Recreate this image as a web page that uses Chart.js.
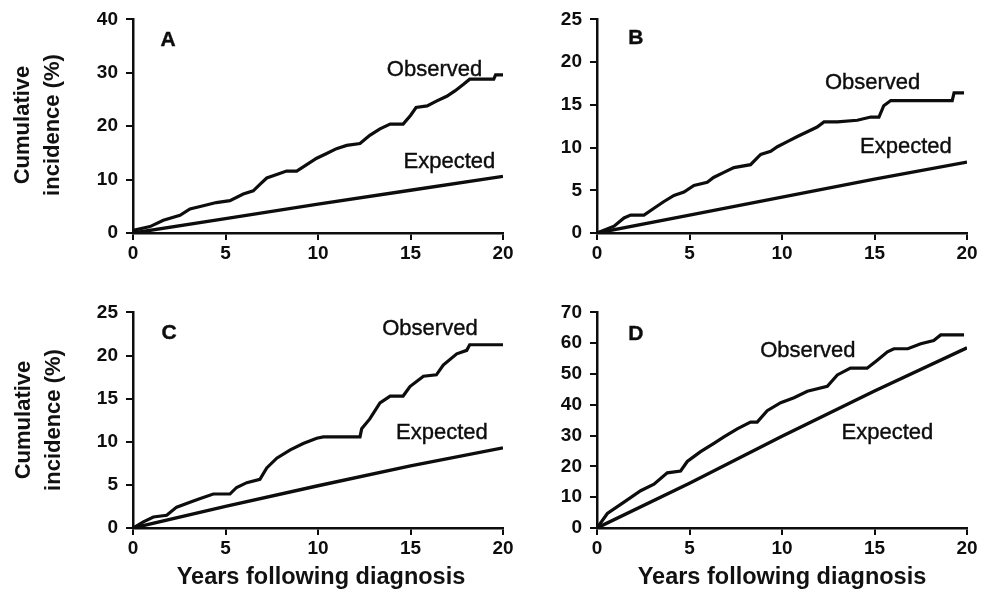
<!DOCTYPE html>
<html>
<head>
<meta charset="utf-8">
<script src="https://cdn.jsdelivr.net/npm/chart.js@4.4.1/dist/chart.umd.min.js"></script>
<style>
  html, body { margin: 0; padding: 0; background: #fff; }
  body { width: 981px; height: 591px; position: relative; overflow: hidden;
         font-family: "Liberation Sans", Arial, sans-serif; color: #111; }
  .panel { position: absolute; }
  .ytitle { position: absolute; width: 200px; height: 60px; margin-left: -100px; margin-top: -30px;
            line-height: 30px; text-align: center; font-weight: bold; font-size: 22px;
            transform: rotate(-90deg); }
  .xtitle { position: absolute; width: 340px; margin-left: -170px; text-align: center;
            font-weight: bold; font-size: 23.5px; line-height: 28px; }
</style>
</head>
<body>
<div class="panel" style="left:60px;top:0px"><canvas id="chartA" width="460" height="270"></canvas></div>
<div class="panel" style="left:524px;top:0px"><canvas id="chartB" width="457" height="270"></canvas></div>
<div class="panel" style="left:60px;top:293px"><canvas id="chartC" width="460" height="270"></canvas></div>
<div class="panel" style="left:524px;top:293px"><canvas id="chartD" width="457" height="270"></canvas></div>

<div class="ytitle" style="left:37px;top:125px">Cumulative<br>incidence (%)</div>
<div class="ytitle" style="left:38px;top:420px">Cumulative<br>incidence (%)</div>
<div class="xtitle" style="left:321px;top:562px">Years following diagnosis</div>
<div class="xtitle" style="left:782px;top:562px">Years following diagnosis</div>

<script>
// ── data (years, cumulative incidence %) ──
const A_OBS_X = [0, 0.92, 1.64, 2.54, 3.08, 3.8, 4.5, 5.24, 5.96, 6.5, 6.86, 7.23, 7.77, 8.3, 8.85, 9.39, 9.93, 10.47, 11.0, 11.55, 12.27, 12.8, 13.35, 13.9, 14.6, 15.0, 15.3, 15.9, 16.4, 16.96, 17.4, 17.85, 18.2, 19.5, 19.6, 20];
const A_OBS_Y = [0.5, 1.2, 2.4, 3.3, 4.5, 5.1, 5.7, 6.05, 7.3, 7.9, 9.1, 10.3, 10.95, 11.6, 11.6, 12.8, 14.0, 14.9, 15.8, 16.4, 16.75, 18.3, 19.5, 20.4, 20.4, 22.0, 23.5, 23.8, 24.7, 25.6, 26.6, 27.8, 28.8, 28.8, 29.6, 29.6];
const A_EXP_X = [0, 5, 10, 15, 20];
const A_EXP_Y = [0, 2.7, 5.4, 8.0, 10.6];

const B_OBS_X = [0, 0.92, 1.46, 1.82, 2.54, 3.08, 3.6, 4.16, 4.7, 5.24, 5.96, 6.3, 6.86, 7.4, 8.3, 8.66, 8.85, 9.39, 9.75, 10.29, 10.83, 11.37, 11.9, 12.27, 12.99, 14.07, 14.8, 15.24, 15.5, 15.88, 19.2, 19.3, 19.84];
const B_OBS_Y = [0, 0.8, 1.76, 2.1, 2.1, 2.9, 3.66, 4.4, 4.8, 5.57, 5.94, 6.5, 7.1, 7.66, 8.0, 8.8, 9.2, 9.57, 10.1, 10.7, 11.3, 11.85, 12.4, 13.0, 13.0, 13.2, 13.57, 13.57, 14.9, 15.5, 15.5, 16.4, 16.4];
const B_EXP_X = [0, 5, 10, 15, 20];
const B_EXP_Y = [0, 2.1, 4.2, 6.3, 8.3];

const C_OBS_X = [0, 0.56, 1.1, 1.82, 2.36, 3.08, 3.6, 4.34, 5.24, 5.6, 6.15, 6.86, 7.23, 7.77, 8.5, 9.2, 9.93, 10.29, 12.27, 12.36, 12.8, 13.35, 13.9, 14.6, 14.97, 15.7, 16.4, 16.77, 17.5, 18.04, 18.2, 20];
const C_OBS_Y = [0, 0.72, 1.28, 1.48, 2.42, 3.0, 3.4, 3.94, 3.94, 4.7, 5.26, 5.65, 6.97, 8.1, 9.06, 9.8, 10.4, 10.57, 10.57, 11.5, 12.65, 14.5, 15.3, 15.3, 16.4, 17.6, 17.76, 18.9, 20.2, 20.6, 21.25, 21.25];
const C_EXP_X = [0, 5, 10, 15, 20];
const C_EXP_Y = [0, 2.5, 4.9, 7.2, 9.3];

const D_OBS_X = [0, 0.56, 1.46, 2.36, 3.08, 3.8, 4.52, 4.88, 5.6, 6.32, 6.86, 7.58, 8.3, 8.66, 9.2, 9.93, 10.65, 11.37, 12.45, 12.99, 13.7, 14.6, 15.15, 15.7, 16.05, 16.8, 17.5, 18.2, 18.58, 19.84];
const D_OBS_Y = [0, 4.7, 8.4, 12.1, 14.2, 17.9, 18.5, 21.6, 24.8, 27.5, 29.6, 32.2, 34.4, 34.4, 38.1, 40.7, 42.3, 44.4, 46.0, 49.7, 51.9, 51.9, 54.5, 57.2, 58.2, 58.2, 59.8, 60.9, 62.7, 62.7];
const D_EXP_X = [0, 5, 10, 15, 20];
const D_EXP_Y = [0, 14.5, 29.8, 44.5, 58.5];

const INK = '#0d0d0d';
const TICK_FONT = { family: '"Liberation Sans", Arial, sans-serif', size: 19, weight: 'bold' };
const LETTER_FONT = 'bold 21px "Liberation Sans", Arial, sans-serif';
const LABEL_FONT = '22px "Liberation Sans", Arial, sans-serif';

// text inside the panels, placed in data units
const notesPlugin = {
  id: 'notes',
  afterDatasetsDraw(chart, args, opts) {
    const { ctx, scales: { x, y } } = chart;
    ctx.save();
    ctx.fillStyle = INK;
    ctx.strokeStyle = INK;
    ctx.lineWidth = 0.4;
    ctx.textAlign = 'center';
    ctx.textBaseline = 'middle';
    opts.items.forEach(n => {
      ctx.font = n.font;
      const px = x.getPixelForValue(n.x), py = y.getPixelForValue(n.y);
      ctx.fillText(n.text, px, py);
      ctx.strokeText(n.text, px, py);
    });
    ctx.restore();
  }
};

function pts(xs, ys) {
  return xs.map((x, i) => ({ x, y: ys[i] }));
}

function makePanel(id, yMax, yStep, obsX, obsY, expX, expY, notes, xHeight, rightPad) {
  const ctx = document.getElementById(id).getContext('2d');
  return new Chart(ctx, {
    type: 'line',
    data: {
      datasets: [
        { label: 'Observed', data: pts(obsX, obsY), borderColor: INK, borderWidth: 3.2,
          pointRadius: 0, fill: false, tension: 0, borderJoinStyle: 'miter' },
        { label: 'Expected', data: pts(expX, expY), borderColor: INK, borderWidth: 3.4,
          pointRadius: 0, fill: false, tension: 0 }
      ]
    },
    options: {
      responsive: false,
      animation: false,
      layout: { padding: { top: 15, right: rightPad, left: 0, bottom: 0 } },
      plugins: {
        legend: { display: false },
        tooltip: { enabled: false },
        notes: { items: notes }
      },
      scales: {
        x: {
          type: 'linear', min: 0, max: 20,
          ticks: { stepSize: 5, color: INK, font: TICK_FONT, padding: 2, maxRotation: 0 },
          grid: { drawOnChartArea: false, drawTicks: true, tickLength: 7, color: INK, lineWidth: 2 },
          border: { color: INK, width: 2.5 },
          afterFit: s => { s.height = xHeight; }
        },
        y: {
          type: 'linear', min: 0, max: yMax,
          ticks: { stepSize: yStep, color: INK, font: TICK_FONT, padding: 8 },
          grid: { drawOnChartArea: false, drawTicks: true, tickLength: 7, color: INK, lineWidth: 2 },
          border: { color: INK, width: 2.5 },
          afterFit: s => { s.width = 73; }
        }
      }
    },
    plugins: [notesPlugin]
  });
}

makePanel('chartA', 40, 10, A_OBS_X, A_OBS_Y, A_EXP_X, A_EXP_Y, [
  { text: 'A', x: 1.9, y: 36.1, font: LETTER_FONT },
  { text: 'Observed', x: 16.3, y: 30.5, font: LABEL_FONT },
  { text: 'Expected', x: 17.1, y: 13.4, font: LABEL_FONT }
], 37, 17);

makePanel('chartB', 25, 5, B_OBS_X, B_OBS_Y, B_EXP_X, B_EXP_Y, [
  { text: 'B', x: 2.1, y: 22.8, font: LETTER_FONT },
  { text: 'Observed', x: 14.9, y: 17.55, font: LABEL_FONT },
  { text: 'Expected', x: 16.7, y: 10.1, font: LABEL_FONT }
], 37, 14);

makePanel('chartC', 25, 5, C_OBS_X, C_OBS_Y, C_EXP_X, C_EXP_Y, [
  { text: 'C', x: 1.95, y: 22.6, font: LETTER_FONT },
  { text: 'Observed', x: 16.05, y: 23.1, font: LABEL_FONT },
  { text: 'Expected', x: 16.7, y: 11.0, font: LABEL_FONT }
], 35, 17);

makePanel('chartD', 70, 10, D_OBS_X, D_OBS_Y, D_EXP_X, D_EXP_Y, [
  { text: 'D', x: 2.1, y: 63, font: LETTER_FONT },
  { text: 'Observed', x: 11.4, y: 57.6, font: LABEL_FONT },
  { text: 'Expected', x: 15.7, y: 30.9, font: LABEL_FONT }
], 35, 14);
</script>
</body>
</html>
